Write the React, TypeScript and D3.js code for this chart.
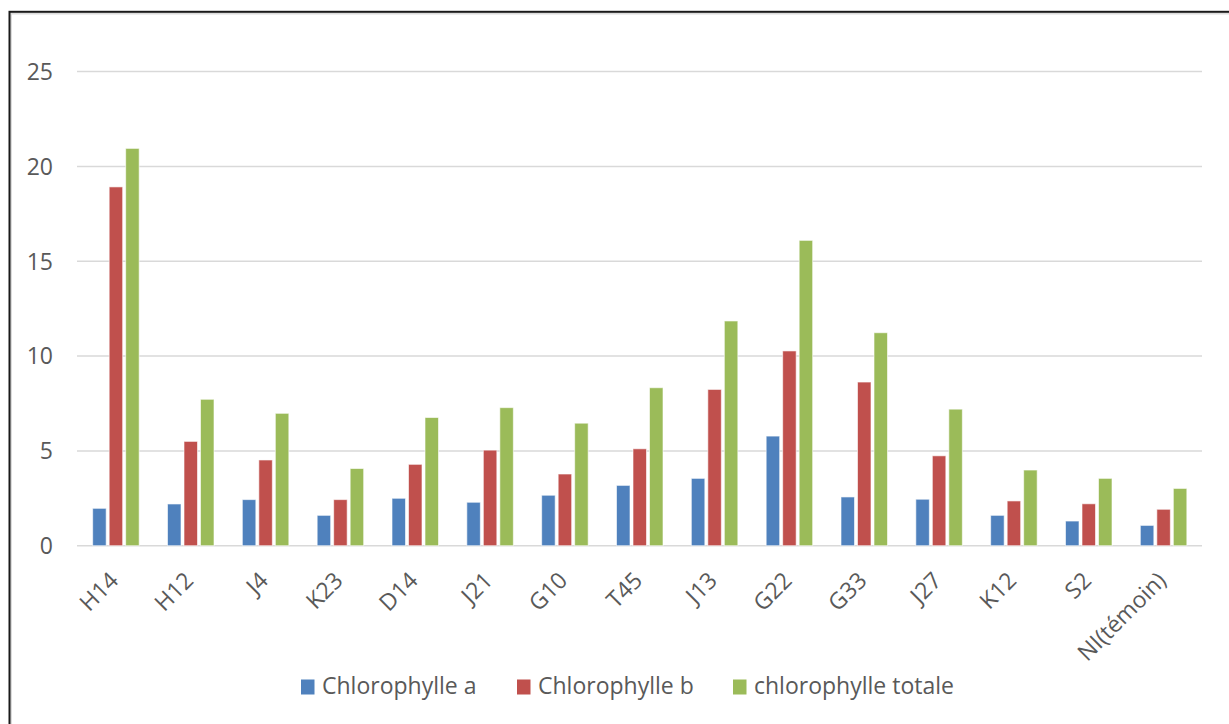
import React from "react";
import * as d3 from "d3";

const categories = ["H14", "H12", "J4", "K23", "D14", "J21", "G10", "T45", "J13", "G22", "G33", "J27", "K12", "S2", "NI(témoin)"];
const chlorophylleA = [1.97, 2.2, 2.43, 1.6, 2.5, 2.29, 2.66, 3.18, 3.55, 5.78, 2.57, 2.45, 1.6, 1.3, 1.07];
const chlorophylleB = [18.92, 5.5, 4.52, 2.43, 4.29, 5.04, 3.78, 5.11, 8.24, 10.27, 8.63, 4.74, 2.36, 2.21, 1.92];
const chlorophylleTotale = [20.95, 7.72, 6.98, 4.07, 6.76, 7.28, 6.46, 8.33, 11.85, 16.1, 11.23, 7.2, 3.99, 3.55, 3.02];
const seriesNames = ["Chlorophylle a", "Chlorophylle b", "chlorophylle totale"];
const seriesColors = ["#4f81bd", "#c0504d", "#9bbb59"];
const yTicks = [0, 5, 10, 15, 20, 25];

const W = 1229;
const H = 724;
const FONT = "'Open Sans', sans-serif";
const TEXT = "#595959";

export default function App() {
  const series = [chlorophylleA, chlorophylleB, chlorophylleTotale];
  const x = d3.scaleBand<string>().domain(categories).range([78.5, 1201]);
  const y = d3.scaleLinear().domain([0, 25]).range([545.7, 71.6]);
  const barW = 13.5;
  const pitch = 16.5;
  const groupW = pitch * 2 + barW;

  return (
    <svg
      width={W}
      height={H}
      style={{ position: "absolute", left: 0, top: 0, background: "#fff" }}
      fontFamily={FONT}
    >
      <rect x={0} y={0} width={W} height={H} fill="#fff" />
      {/* frame */}
      <rect x={11} y={13.5} width={W + 20} height={H + 20} fill="none" stroke="#dcdcdc" strokeWidth={2} />
      <rect x={9.5} y={11.8} width={W + 20} height={H + 20} fill="none" stroke="#1a1a1a" strokeWidth={2} />

      {/* gridlines */}
      {yTicks.map((t) => (
        <line key={t} x1={77} x2={1202} y1={y(t)} y2={y(t)} stroke="#d9d9d9" strokeWidth={1.5} />
      ))}
      {yTicks.map((t) => (
        <text key={"l" + t} x={53} y={y(t)} dy="0.36em" textAnchor="end" fontSize={23} fill={TEXT}>
          {t}
        </text>
      ))}

      {/* bars */}
      {series.map((vals, si) =>
        categories.map((c, i) => {
          const cx = (x(c) as number) + x.bandwidth() / 2;
          const bx = cx - groupW / 2 + si * pitch;
          return (
            <rect
              key={si + "-" + c}
              x={bx}
              y={y(vals[i])}
              width={barW}
              height={y(0) - y(vals[i])}
              fill={seriesColors[si]}
              stroke="#ffffff"
              strokeOpacity={0.6}
              strokeWidth={1}
            />
          );
        })
      )}

      {/* category labels */}
      {categories.map((c) => {
        const cx = (x(c) as number) + x.bandwidth() / 2;
        return (
          <text
            key={"c" + c}
            transform={`translate(${cx + 4},${582}) rotate(-45)`}
            textAnchor="end"
            fontSize={23}
            fill={TEXT}
          >
            {c}
          </text>
        );
      })}

      {/* legend */}
      {seriesNames.map((n, i) => {
        const lx = 301 + i * 216;
        return (
          <g key={n}>
            <rect x={lx} y={679.5} width={13.5} height={15} fill={seriesColors[i]} />
            <text x={lx + 21} y={694} fontSize={23} fill={TEXT}>
              {n}
            </text>
          </g>
        );
      })}
    </svg>
  );
}
